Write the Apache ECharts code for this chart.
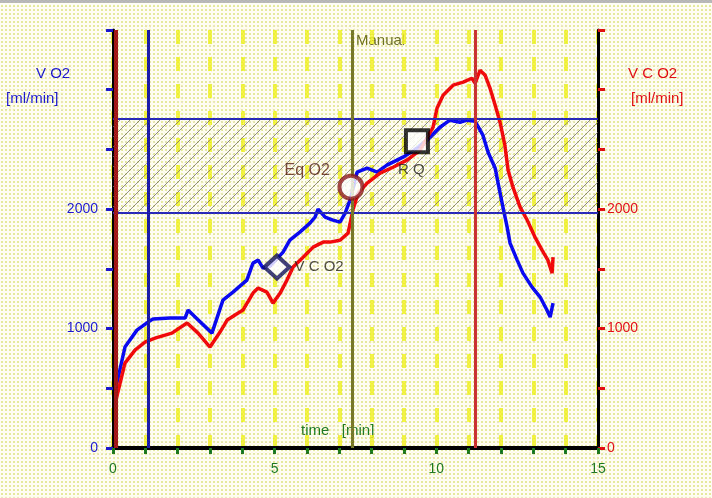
<!DOCTYPE html>
<html>
<head>
<meta charset="utf-8">
<script src="https://cdn.jsdelivr.net/npm/echarts@6/dist/echarts.min.js"></script>
<style>
html,body{margin:0;padding:0;}
body{background-color:#fffef0;background-image:radial-gradient(#ebe6a8 0.9px, transparent 1.1px);background-size:4px 4px;}
#chart{width:712px;height:498px;}
</style>
</head>
<body>
<div id="chart"></div>
<script>
// ---- data ----
const vo2Time = [0.12,0.37,0.74,1.08,1.24,1.76,2.23,2.32,2.54,3.06,3.40,3.71,4.14,4.33,4.49,4.64,4.86,5.26,5.47,5.78,6.09,6.25,6.34,6.56,6.80,7.02,7.18,7.33,7.55,7.86,8.17,8.47,8.97,9.40,9.80,10.11,10.42,10.73,10.95,11.20,11.44,11.60,11.82,11.91,12.06,12.19,12.28,12.50,12.68,12.96,13.21,13.42,13.52,13.61];
const vo2Values = [544,845,987,1054,1080,1088,1088,1155,1096,962,1238,1305,1406,1548,1573,1506,1523,1640,1740,1808,1883,1933,2000,1933,1908,1891,1966,2075,2310,2343,2310,2368,2435,2510,2602,2686,2745,2728,2745,2736,2619,2477,2343,2218,2017,1849,1715,1573,1464,1347,1264,1155,1096,1213];
const vco2Time = [0.09,0.37,0.68,0.99,1.30,1.82,2.29,2.63,3.00,3.31,3.53,4.02,4.33,4.49,4.76,4.95,5.17,5.38,5.57,5.88,6.19,6.50,6.71,7.02,7.27,7.42,7.58,7.86,8.26,8.66,9.09,9.50,9.90,10.02,10.21,10.52,10.83,11.10,11.20,11.35,11.51,11.66,11.82,11.97,12.12,12.22,12.37,12.59,12.81,13.05,13.27,13.45,13.58,13.61];
const vco2Values = [400,711,820,887,920,962,1046,962,845,971,1071,1155,1297,1339,1305,1213,1297,1406,1515,1598,1682,1724,1724,1740,1799,1992,2134,2218,2301,2351,2410,2494,2686,2845,2954,3038,3063,3096,3054,3163,3121,3013,2870,2728,2535,2326,2184,2017,1908,1766,1657,1573,1464,1598];
const markerNames = ['VCO2','EqO2','RQ'];
const markerTime = [5.07,7.36,9.40];
const markerValues = [1515,2184,2569];
const verticalLines = [0.07,1.08,7.4,11.2];
const bandLow = 1966, bandHigh = 2753;
const yLabels = [0,1000,2000];
const xLabels = [0,5,10,15];

const vo2 = vo2Time.map((t,i)=>[t,vo2Values[i]]);
const vco2 = vco2Time.map((t,i)=>[t,vco2Values[i]]);

// hatch pattern
const pc = document.createElement('canvas');
pc.width = 10; pc.height = 10;
const g = pc.getContext('2d');
g.strokeStyle = 'rgba(110,110,110,0.75)';
g.lineWidth = 1;
g.beginPath();
g.moveTo(0,10); g.lineTo(10,0);
g.moveTo(-1,1); g.lineTo(1,-1);
g.moveTo(9,11); g.lineTo(11,9);
g.stroke();

const font = '"Liberation Sans", Arial, sans-serif';
const FS = 14;
const chart = echarts.init(document.getElementById('chart'), null, {renderer:'canvas'});

const yAxisBase = (color, pos, margin) => ({
  type:'value', position: pos, min:0, max:3500, interval:500,
  axisLine:{show:true, onZero:false, lineStyle:{color:'#000', width:3}},
  axisTick:{show:true, length:7, lineStyle:{color:color, width:3}},
  axisLabel:{color:color, fontFamily:font, fontSize:FS, margin:margin,
    formatter:v=> yLabels.indexOf(v)>=0 ? String(v) : ''},
  splitLine:{show:false}
});

chart.setOption({
  backgroundColor:'transparent',
  animation:false,
  grid:{left:113, right:114, top:30, bottom:50, containLabel:false},
  xAxis:{
    type:'value', min:0, max:15, interval:1,
    axisLine:{onZero:false, lineStyle:{color:'#000', width:4}},
    axisTick:{show:true, length:6, lineStyle:{color:'#1e7a1e', width:3}},
    axisLabel:{color:'#1e7a1e', fontFamily:font, fontSize:FS, margin:14,
      formatter:v=> xLabels.indexOf(v)>=0 ? String(v) : ''},
    splitLine:{show:true, lineStyle:{color:'rgba(240,238,40,0.85)', width:4, type:[14,13]}}
  },
  yAxis:[yAxisBase('#1a1acc','left',15), yAxisBase('#e01010','right',9)],
  graphic:[
    {type:'rect', shape:{x:0,y:0,width:712,height:3}, style:{fill:'#b8b8b8'}},
    {type:'text', left:36, top:66, style:{text:'V O2', fill:'#1a1acc', font:'15px '+font}},
    {type:'text', left:6, top:91, style:{text:'[ml/min]', fill:'#1a1acc', font:'15px '+font}},
    {type:'text', left:628, top:66, style:{text:'V C O2', fill:'#e01010', font:'15px '+font}},
    {type:'text', left:631, top:91, style:{text:'[ml/min]', fill:'#e01010', font:'15px '+font}},
    {type:'text', left:301, top:423, style:{text:'time   [min]', fill:'#1e7a1e', font:'15px '+font}},
    {type:'text', left:356, top:33, style:{text:'Manual', fill:'#707020', font:'15px '+font}}
  ],
  series:[
    {
      type:'line', name:'VO2', yAxisIndex:0, data:vo2, showSymbol:false, symbol:'none',
      lineStyle:{color:'#0a0af0', width:3.5}, z:3,
      markArea:{silent:true, itemStyle:{color:{image:pc, repeat:'repeat'}},
        data:[[{yAxis:bandLow, x:113},{yAxis:bandHigh, x:598}]]},
      markLine:{silent:true, symbol:['none','none'], label:{show:false},
        data:[
          {yAxis:bandHigh, lineStyle:{color:'#2a2ab8', width:2, type:'solid'}},
          {yAxis:bandLow, lineStyle:{color:'#2a2ab8', width:2, type:'solid'}},
          {xAxis:verticalLines[0], lineStyle:{color:'#a01818', width:4, type:'solid'}},
          {xAxis:verticalLines[1], lineStyle:{color:'#1c1ca8', width:3, type:'solid'}},
          {xAxis:verticalLines[2], lineStyle:{color:'#78782a', width:3, type:'solid'}},
          {xAxis:verticalLines[3], lineStyle:{color:'#c83232', width:3, type:'solid'}}
        ]}
    },
    {
      type:'line', name:'VCO2', yAxisIndex:1, data:vco2, showSymbol:false, symbol:'none',
      lineStyle:{color:'#f00a0a', width:3.5}, z:4
    },
    {
      type:'scatter', yAxisIndex:0, z:6,
      data:[
        {value:[markerTime[0],markerValues[0]], name:markerNames[0], symbol:'diamond', symbolSize:[25,23],
          itemStyle:{color:'#ffffff', borderColor:'#10105a', borderWidth:4},
          label:{show:true, position:'right', distance:3, formatter:'V C O2', color:'#222', fontFamily:font, fontSize:15}},
        {value:[markerTime[1],markerValues[1]], name:markerNames[1], symbol:'circle', symbolSize:23,
          itemStyle:{color:'#ffffff', borderColor:'#8a1a1a', borderWidth:4},
          label:{show:true, position:[-53,-11], formatter:'Eq O2', color:'#5a1e10', fontFamily:font, fontSize:16}},
        {value:[markerTime[2],markerValues[2]], name:markerNames[2], symbol:'rect', symbolSize:22,
          itemStyle:{color:'#ffffff', borderColor:'#000', borderWidth:4},
          label:{show:true, position:[-6,34], formatter:'R Q', color:'#222', fontFamily:font, fontSize:15}}
      ]
    }
  ]
});
</script>
</body>
</html>
